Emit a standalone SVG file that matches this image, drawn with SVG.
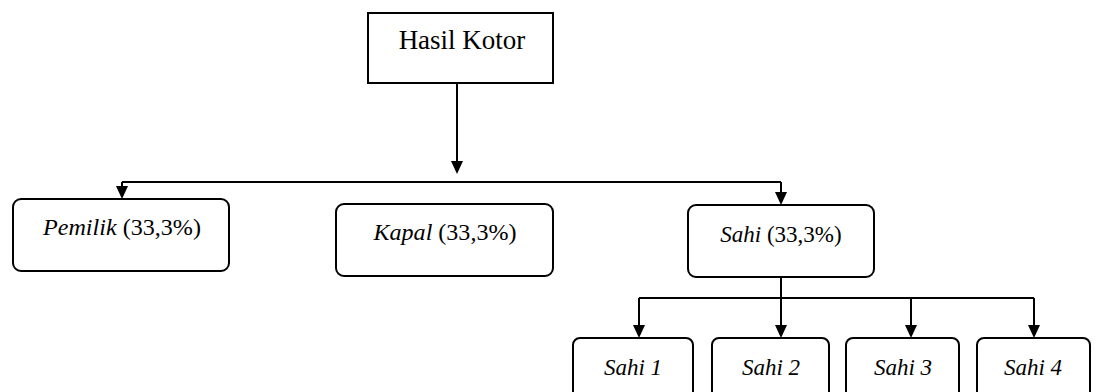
<svg xmlns="http://www.w3.org/2000/svg" width="1106" height="392" viewBox="0 0 1106 392">
<style>
.box{fill:#fff;stroke:#000;stroke-width:2}
text{font-family:"Liberation Serif","DejaVu Serif",serif;font-size:23px;fill:#000;text-anchor:middle}
.i{font-style:italic}
.c{fill:none;stroke:#000;stroke-width:2}
</style>
<defs>
<path id="ah" d="M-6,-13 L6,-13 L0,0 Z" fill="#000"/>
</defs>
<rect width="1106" height="392" fill="#fff"/>
<g id="connectors">
<path class="c" d="M457,83 V166"/>
<path class="c" d="M122,182 H781"/>
<path class="c" d="M122,182 V190"/>
<path class="c" d="M781,182 V196"/>
<path class="c" d="M781,277 V328"/>
<path class="c" d="M639,298 H1034"/>
<path class="c" d="M639,298 V328"/>
<path class="c" d="M911,298 V328"/>
<path class="c" d="M1034,298 V328"/>
<use href="#ah" x="457" y="174"/>
<use href="#ah" x="122" y="199"/>
<use href="#ah" x="781" y="205"/>
<use href="#ah" x="639" y="338"/>
<use href="#ah" x="781" y="338"/>
<use href="#ah" x="911" y="338"/>
<use href="#ah" x="1034" y="338"/>
</g>
<g id="hasil"><rect class="box" x="368" y="13" width="185" height="70"/><text x="462" y="49" style="font-size:27px">Hasil Kotor</text></g>
<g id="pemilik"><rect class="box" x="13" y="199" width="216" height="72" rx="8"/><text x="122" y="235" textLength="158" lengthAdjust="spacingAndGlyphs"><tspan class="i">Pemilik</tspan> (33,3%)</text></g>
<g id="kapal"><rect class="box" x="336" y="204" width="217" height="72" rx="8"/><text x="445" y="240" textLength="143" lengthAdjust="spacingAndGlyphs"><tspan class="i">Kapal</tspan> (33,3%)</text></g>
<g id="sahi"><rect class="box" x="688" y="205" width="186" height="72" rx="8"/><text x="781" y="242"><tspan class="i">Sahi</tspan> (33,3%)</text></g>
<g id="sahi1"><rect class="box" x="573" y="338" width="120" height="70" rx="7"/><text class="i" x="633" y="375">Sahi 1</text></g>
<g id="sahi2"><rect class="box" x="712" y="338" width="117" height="70" rx="7"/><text class="i" x="771" y="375">Sahi 2</text></g>
<g id="sahi3"><rect class="box" x="846" y="338" width="113" height="70" rx="7"/><text class="i" x="903" y="375">Sahi 3</text></g>
<g id="sahi4"><rect class="box" x="977" y="338" width="113" height="70" rx="7"/><text class="i" x="1033" y="375">Sahi 4</text></g>
</svg>
